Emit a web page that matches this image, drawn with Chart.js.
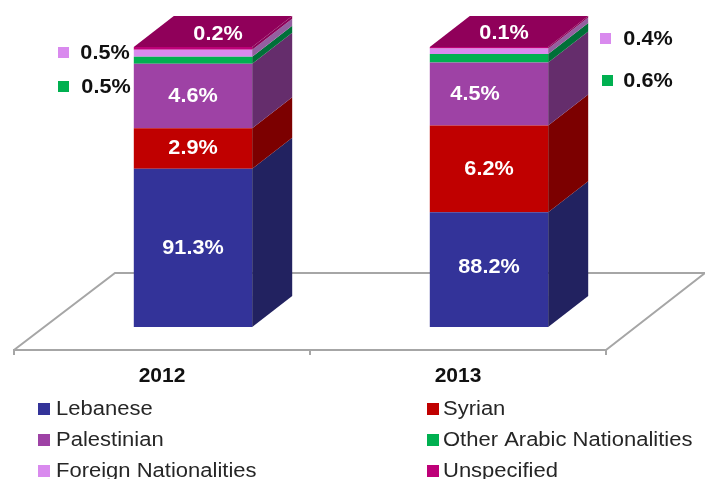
<!DOCTYPE html>
<html><head><meta charset="utf-8">
<style>html,body{margin:0;padding:0;background:#fff}canvas{display:block}</style>
<script src="https://cdn.jsdelivr.net/npm/chart.js@4"></script>
</head><body><canvas id="c" width="705" height="479"></canvas>
<script>
const years = ['2012', '2013'];
const lebanese = [91.3, 88.2];
const syrian = [2.9, 6.2];
const palestinian = [4.6, 4.5];
const otherArabic = [0.5, 0.6];
const foreign = [0.5, 0.4];
const unspecified = [0.2, 0.1];

const seriesNames = ['Lebanese','Syrian','Palestinian','Other Arabic Nationalities','Foreign Nationalities','Unspecified'];
const seriesValues = [lebanese, syrian, palestinian, otherArabic, foreign, unspecified];
const frontColors = ['#333399','#C00000','#9E42A5','#00B050','#D98AEE','#BE0078'];
const sideColors  = ['#222260','#7C0000','#652D6C','#007038','#945FA0','#8C0058'];
const topColor = '#90005A';

const FONT = '"Liberation Sans", Arial, sans-serif';
const DEPTH_X = 40, DEPTH_Y = 31;       // bar depth
const FLOOR_SHIFT = 31, FLOOR_DROP = 23; // front floor edge relative to bar plane
const FLOOR_X = 99, FLOOR_Y = 77;

function poly(ctx, pts, fill){
  ctx.beginPath();
  pts.forEach((p,i)=> i?ctx.lineTo(p[0],p[1]):ctx.moveTo(p[0],p[1]));
  ctx.closePath(); ctx.fillStyle=fill; ctx.fill();
}
function text(ctx, s, cx, cy, font, color, sx){
  ctx.save();
  ctx.translate(cx,cy); ctx.scale(sx,1);
  ctx.font=font; ctx.fillStyle=color; ctx.textAlign='center'; ctx.textBaseline='middle';
  ctx.fillText(s,0,0);
  ctx.restore();
}
function leftText(ctx, s, x, cy, font, color, sx){
  ctx.save();
  ctx.translate(x,cy); ctx.scale(sx,1);
  ctx.font=font; ctx.fillStyle=color; ctx.textAlign='left'; ctx.textBaseline='middle';
  ctx.fillText(s,0,0);
  ctx.restore();
}

const floorPlugin = {
  id:'floor',
  beforeDatasetsDraw(chart){
    const {ctx, chartArea:a} = chart;
    const fx0=a.left-FLOOR_SHIFT, fx1=a.right-FLOOR_SHIFT, fy=a.bottom+FLOOR_DROP;
    ctx.save();
    ctx.strokeStyle='#A6A6A6'; ctx.lineWidth=2;
    ctx.beginPath();
    ctx.moveTo(fx0,fy+5); ctx.lineTo(fx0,fy); ctx.lineTo(fx1,fy); ctx.lineTo(fx1,fy+5);
    ctx.moveTo((fx0+fx1)/2,fy); ctx.lineTo((fx0+fx1)/2,fy+5);
    ctx.moveTo(fx0,fy); ctx.lineTo(fx0+FLOOR_X+2,fy-FLOOR_Y);
    ctx.lineTo(fx1+FLOOR_X,fy-FLOOR_Y); ctx.lineTo(fx1,fy);
    ctx.stroke();
    ctx.restore();
  }
};

// hand-placed callouts for the two thin segments: [dataset, bar, swatchX, swatchY, labelCx, labelCy]
const callouts = [
  [4,0,58,47,105,53],
  [3,0,58,81,106,87],
  [4,1,600,33,648,39],
  [3,1,602,75,648,81]
];
// label centre nudges for the big segments: [dataset, bar, dx, dy]
const nudges = {'2,1':[-14,0],'0,1':[0,-2]};

const boxPlugin = {
  id:'box',
  afterDatasetsDraw(chart){
    const {ctx, chartArea:a} = chart;
    const floorOf = bar => Math.min(bar.base, a.bottom);
    chart.data.datasets.forEach((ds,di)=>{
      chart.getDatasetMeta(di).data.forEach(bar=>{
        const r=bar.x+bar.width/2, t=bar.y, b=floorOf(bar);
        poly(ctx,[[r,t],[r+DEPTH_X,t-DEPTH_Y],[r+DEPTH_X,b-DEPTH_Y],[r,b]],sideColors[di]);
      });
    });
    const last=chart.data.datasets.length-1;
    chart.getDatasetMeta(last).data.forEach(bar=>{
      const l=bar.x-bar.width/2, r=bar.x+bar.width/2, t=bar.y;
      poly(ctx,[[l,t],[r,t],[r+DEPTH_X,t-DEPTH_Y],[l+DEPTH_X,t-DEPTH_Y]],topColor);
    });
    // inner white labels
    const big='bold 21px '+FONT, SX=1.03;
    [0,1,2].forEach(di=>{
      chart.getDatasetMeta(di).data.forEach((bar,i)=>{
        const n=nudges[di+','+i]||[0,0];
        text(ctx,seriesValues[di][i]+'%',bar.x+n[0],(bar.y+floorOf(bar))/2+n[1],big,'#fff',SX);
      });
    });
    chart.getDatasetMeta(last).data.forEach((bar,i)=>{
      text(ctx,seriesValues[last][i]+'%',bar.x+DEPTH_X/2+(i?-5:5),bar.y-DEPTH_Y/2+(i?2:3),big,'#fff',SX);
    });
    // callouts
    callouts.forEach(([di,i,sx,sy,lx,ly])=>{
      ctx.fillStyle=frontColors[di]; ctx.fillRect(sx,sy,11,11);
      text(ctx,seriesValues[di][i]+'%',lx,ly,big,'#111',SX);
    });
    // legend
    const rows=[409,440,471], cols=[[38,56],[427,443]];
    const lf='20px '+FONT;
    seriesNames.forEach((name,k)=>{
      const c=cols[k%2], y=rows[Math.floor(k/2)];
      ctx.fillStyle=frontColors[k]; ctx.fillRect(c[0],y-6,12,12);
      leftText(ctx,name,c[1],y,lf,'#262626',1.1);
    });
  }
};

new Chart(document.getElementById('c'),{
  type:'bar',
  data:{
    labels:years,
    datasets:seriesValues.map((v,i)=>({
      label:seriesNames[i],data:v,backgroundColor:frontColors[i],borderWidth:0
    }))
  },
  options:{
    responsive:false, animation:false,
    layout:{padding:{left:45,right:68,top:47,bottom:0}},
    plugins:{legend:{display:false},tooltip:{enabled:false}},
    categoryPercentage:1, barPercentage:0.4,
    scales:{
      x:{stacked:true,
        grid:{display:false},border:{display:false},
        afterFit(s){s.height=152;},
        ticks:{padding:29,labelOffset:-FLOOR_SHIFT,color:'#111',maxRotation:0,font:{family:'"Liberation Sans", Arial, sans-serif',size:21,weight:'bold'}}
      },
      y:{stacked:true,display:false,min:80,max:100}
    }
  },
  plugins:[floorPlugin,boxPlugin]
});
</script></body></html>
